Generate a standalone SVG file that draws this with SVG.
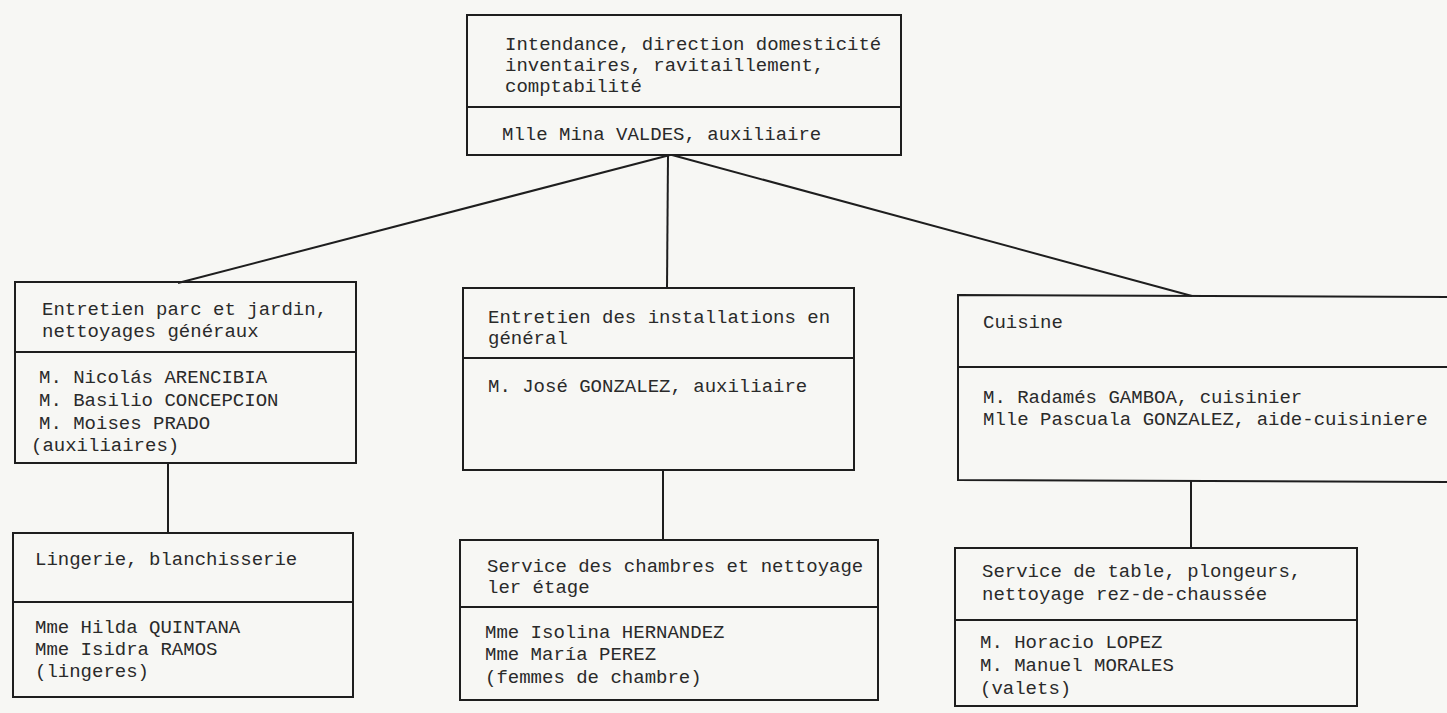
<svg xmlns="http://www.w3.org/2000/svg" width="1447" height="713" viewBox="0 0 1447 713">
<style>
.bg{fill:#f7f7f4}
.box{fill:none;stroke:#1e1e1e;stroke-width:2}
.div{stroke:#1e1e1e;stroke-width:2}
.con{stroke:#1e1e1e;stroke-width:2;fill:none}
text{font-family:"Liberation Mono","DejaVu Sans Mono",monospace;font-size:19px;fill:#2a2a2a}
</style>
<rect class="bg" x="0" y="0" width="1447" height="713"/>
<g id="connectors">
<line class="con" x1="670" y1="155" x2="178" y2="283"/>
<line class="con" x1="668" y1="155" x2="667" y2="289"/>
<line class="con" x1="672" y1="155" x2="1192" y2="296"/>
<line class="con" x1="168" y1="463" x2="168" y2="533"/>
<line class="con" x1="663" y1="470" x2="663" y2="540"/>
<line class="con" x1="1191" y1="480" x2="1191" y2="549"/>
</g>
<g id="n-intendance">
<rect class="box" x="467" y="15" width="434" height="140"/>
<line class="div" x1="467" y1="107" x2="901" y2="107"/>
<text x="505" y="50">Intendance, direction domesticité</text>
<text x="505" y="71">inventaires, ravitaillement,</text>
<text x="505" y="92">comptabilité</text>
<text x="502" y="140">Mlle Mina VALDES, auxiliaire</text>
</g>
<g id="n-parc">
<rect class="box" x="15" y="282" width="341" height="181"/>
<line class="div" x1="15" y1="352" x2="356" y2="352"/>
<text x="42" y="315">Entretien parc et jardin,</text>
<text x="42" y="337">nettoyages généraux</text>
<text x="39" y="383">M. Nicolás ARENCIBIA</text>
<text x="39" y="406">M. Basilio CONCEPCION</text>
<text x="39" y="429">M. Moises PRADO</text>
<text x="31" y="451">(auxiliaires)</text>
</g>
<g id="n-installations">
<rect class="box" x="463" y="288" width="391" height="182"/>
<line class="div" x1="463" y1="358" x2="854" y2="358"/>
<text x="488" y="323">Entretien des installations en</text>
<text x="488" y="344">général</text>
<text x="488" y="392">M. José GONZALEZ, auxiliaire</text>
</g>
<g id="n-cuisine">
<path class="box" d="M1460 297 L958 295 L958 480 L1460 482"/>
<line class="div" x1="958" y1="367" x2="1460" y2="367"/>
<text x="983" y="328">Cuisine</text>
<text x="983" y="403">M. Radamés GAMBOA, cuisinier</text>
<text x="983" y="425">Mlle Pascuala GONZALEZ, aide-cuisiniere</text>
</g>
<g id="n-lingerie">
<rect class="box" x="13" y="533" width="340" height="164"/>
<line class="div" x1="13" y1="602" x2="353" y2="602"/>
<text x="35" y="565">Lingerie, blanchisserie</text>
<text x="35" y="633">Mme Hilda QUINTANA</text>
<text x="35" y="655">Mme Isidra RAMOS</text>
<text x="35" y="677">(lingeres)</text>
</g>
<g id="n-chambres">
<rect class="box" x="460" y="540" width="418" height="160"/>
<line class="div" x1="460" y1="607" x2="878" y2="607"/>
<text x="487" y="572">Service des chambres et nettoyage</text>
<text x="487" y="593">ler étage</text>
<text x="485" y="638">Mme Isolina HERNANDEZ</text>
<text x="485" y="660">Mme María PEREZ</text>
<text x="485" y="683">(femmes de chambre)</text>
</g>
<g id="n-table">
<rect class="box" x="955" y="548" width="402" height="158"/>
<line class="div" x1="955" y1="620" x2="1357" y2="620"/>
<text x="982" y="577">Service de table, plongeurs,</text>
<text x="982" y="600">nettoyage rez-de-chaussée</text>
<text x="980" y="648">M. Horacio LOPEZ</text>
<text x="980" y="671">M. Manuel MORALES</text>
<text x="980" y="694">(valets)</text>
</g>
</svg>
